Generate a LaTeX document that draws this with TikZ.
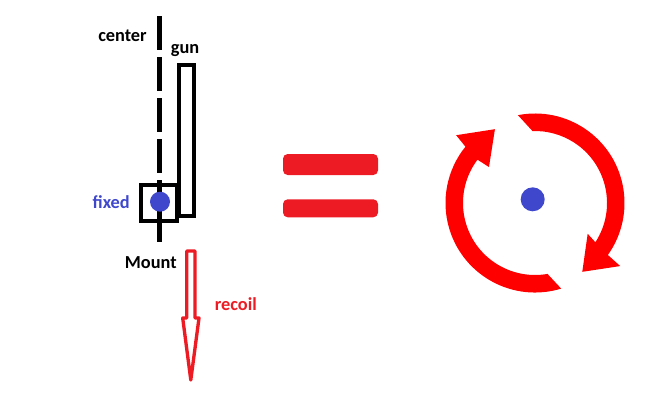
\documentclass[tikz,border=0pt]{standalone}
\usepackage{fontspec}
\setmainfont{Carlito}
\definecolor{paintred}{HTML}{ED1C24}
\definecolor{paintblue}{HTML}{3F48CC}
\begin{document}
\begin{tikzpicture}[
        x=0.75pt, y=0.75pt,
        caption/.style={
            font=\fontsize{13.75}{16}\selectfont\bfseries,
            inner sep=0,
            anchor=base
        },
        frame/.style={draw, line width=3pt, inner sep=0},
        pivot/.style={circle, fill=paintblue, minimum size=15pt, inner sep=0},
        bar/.style={fill=paintred, rounded corners=3.5pt, minimum width=71.25pt, inner sep=0},
        ring/.style={fill=red}
    ]
    \useasboundingbox (0,0) rectangle (657,-405);

    % gun on its mount
    \node[frame, minimum width=11.5pt, minimum height=113.5pt] (gun) at (186.3,-140.3) {};
    \node[frame, minimum size=27pt] (mount) at (159.3,-203.2) {};
    \coordinate (top) at (159.3,-16);
    \coordinate (foot) at (159.3,-242);
    \draw[line width=3.4pt, dash pattern=on 25.5pt off 5.25pt] (top) -- (mount.north);
    \draw[line width=3.4pt] (mount.north) -- (foot);
    \node[pivot] (pin) at (160,-201.7) {};

    \node[caption] (centerlbl) at (122.5,-41.7) {center};
    \node[caption] (gunlbl) at (185,-53.5) {gun};
    \node[caption, text=paintblue] (fixedlbl) at (111.2,-208.3) {fixed};
    \node[caption] (mountlbl) at (150.8,-268.3) {Mount};
    \node[caption, text=paintred] (recoillbl) at (235.8,-310) {recoil};

    % recoil arrow
    \draw[paintred, line width=2.5pt, line join=round]
        (186.7,-251) -- (195,-251) -- (195,-318) -- (199,-318)
        -- (190.8,-380) -- (182.7,-318) -- (186.7,-318) -- cycle;

    % equals sign
    \node[bar, minimum height=15.75pt] (eqtop) at (330.5,-164.5) {};
    \node[bar, minimum height=13.5pt] (eqbottom) at (330.5,-208.3) {};

    % rotation
    \coordinate (hub) at (535,-203);
    \fill[ring] ([shift={(101:89.5)}]hub) arc[start angle=101, end angle=-35.5, radius=89.5]
        -- ([shift={(-36.5:106)}]hub) -- ([shift={(-55.5:83.5)}]hub)
        -- ([shift={(-30.3:61)}]hub) -- ([shift={(-33:72)}]hub)
        arc[start angle=-33, end angle=92, radius=72] -- cycle;
    \fill[ring] ([shift={(287:89.5)}]hub) arc[start angle=287, end angle=141, radius=89.5]
        -- ([shift={(139.3:104)}]hub) -- ([shift={(118.5:84)}]hub)
        -- ([shift={(142:58.4)}]hub) -- ([shift={(143:72)}]hub)
        arc[start angle=143, end angle=280, radius=72] -- cycle;
    \node[pivot, minimum size=18pt] (axis) at (532.7,-199.3) {};

\end{tikzpicture}
\end{document}
